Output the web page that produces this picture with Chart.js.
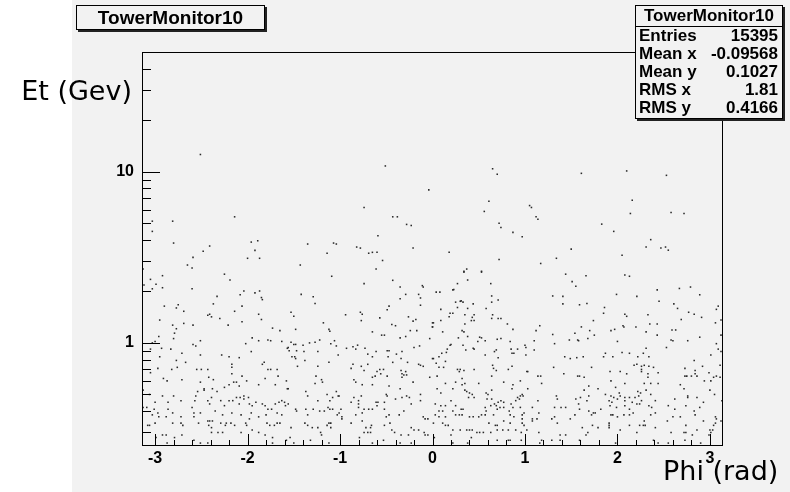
<!DOCTYPE html>
<html>
<head>
<meta charset="utf-8">
<script src="https://cdn.jsdelivr.net/npm/chart.js@4.4.1/dist/chart.umd.min.js"></script>
<style>
  html, body { margin: 0; padding: 0; background: #fff; }
  #wrap { position: relative; width: 790px; height: 492px; font-family: "Liberation Sans", Arial, sans-serif; color: #000; }
  #pad { position: absolute; left: 72px; top: 0; width: 718px; height: 492px; background: #f2f2f2; }
  #plot { position: absolute; left: 0; top: 0; }
  .box { position: absolute; box-sizing: border-box; border: 1px solid #000; background: #f2f2f2; box-shadow: 2px 2px 0 #222; }
  #title { left: 76px; top: 5px; width: 189px; height: 25px; font-weight: bold; font-size: 19px; line-height: 23px; text-align: center; }
  #stats { left: 635px; top: 5px; width: 148px; height: 114px; font-weight: bold; font-size: 17px; }
  #stats .head { height: 20px; line-height: 20px; text-align: center; border-bottom: 1px solid #000; }
  #stats .row { height: 18px; line-height: 18px; padding: 0 4px 0 3px; display: flex; justify-content: space-between; }
  .axtitle { position: absolute; font-family: "DejaVu Sans", sans-serif; font-size: 27px; line-height: 27px; white-space: pre; }
</style>
</head>
<body>
<div id="wrap">
  <div id="pad"></div>
  <canvas id="plot" width="790" height="492"></canvas>
  <div id="title" class="box">TowerMonitor10</div>
  <div id="stats" class="box">
    <div class="head">TowerMonitor10</div>
    <div class="row"><span>Entries</span><span>15395</span></div>
    <div class="row"><span>Mean x</span><span>-0.09568</span></div>
    <div class="row"><span>Mean y</span><span>0.1027</span></div>
    <div class="row"><span>RMS x</span><span>1.81</span></div>
    <div class="row"><span>RMS y</span><span>0.4166</span></div>
  </div>
  <div class="axtitle" style="right:658px; top:77px;">Et (Gev)</div>
  <div class="axtitle" style="left:663px; top:457px;">Phi (rad)</div>
</div>
<script>
// tick labels
var xTickValues = [-3, -2, -1, 0, 1, 2, 3];
var yTickValues = [1, 10];

// towers above ~2.6 GeV, [phi, Et]
var upperPoints = [
  [-2.51,12.6],[-0.51,10.8],[-0.04,7.83],[-0.74,6.18],[-2.14,5.45],[-0.43,5.45],[-0.38,5.45],[-3.03,5.14],
  [-2.81,5.14],[-3.03,4.48],[-0.28,4.92],[-0.23,4.85],[-0.59,4.23],[-2.80,3.83],[-2.41,3.68],[-1.96,3.88],
  [-1.89,3.95],[-1.92,3.47],[-2.48,3.43],[-2.59,3.16],[-2.00,3.12],[-1.87,3.12],[-1.35,3.78],[-1.07,3.83],
  [-1.04,3.78],[-1.14,3.34],[-0.82,3.63],[-0.78,3.58],[-0.69,3.34],[-0.65,3.38],[-0.60,3.38],[-0.54,3.03],
  [-0.21,3.58],[-2.65,2.85],[-2.60,2.74],[-1.43,2.85],[-0.61,2.70],[-3.13,2.70],
  [0.65,10.4],[0.70,9.66],[1.61,9.78],[2.10,10.1],[2.53,9.52],[0.61,6.72],[0.56,5.86],[1.05,6.34],
  [1.07,6.18],[1.12,5.45],[1.14,5.28],[2.16,6.81],[2.14,5.70],[2.58,5.78],[2.72,5.70],[0.72,5.0],
  [0.74,4.72],[0.87,4.42],[0.97,4.17],[1.83,4.94],[1.96,4.48],[2.36,4.01],[2.31,3.63],[2.47,3.58],
  [2.52,3.63],[2.55,3.48],[0.18,3.38],[0.72,3.07],[1.34,3.12],[1.50,3.53],[1.17,2.91],[2.05,3.25],
  [0.37,2.70],[0.34,2.62],[0.53,2.62]
];

// phi -pi .. -pi/2
var bandA = [
  [-2.92,2.47],[-3.05,2.35],[-3.12,2.18],[-2.99,2.2],[-2.92,2.1],[-3.03,2.07],[-2.25,2.52],[-2.19,2.33],
  [-2.60,2.07],[-2.04,2.01],[-2.08,1.91],[-1.92,1.96],[-1.87,2.01],[-1.85,1.84],[-1.84,1.79],[-2.33,1.87],
  [-2.37,1.69],[-2.90,1.64],[-2.75,1.67],[-2.77,1.60],[-2.69,1.53],[-2.43,1.45],[-2.41,1.47],[-2.39,1.42],
  [-2.14,1.53],[-2.06,1.64],[-1.88,1.47],[-1.85,1.37],[-2.30,1.39],[-2.06,1.33],[-2.21,1.27],[-2.95,1.36],
  [-2.81,1.27],[-2.69,1.30],[-2.59,1.27],[-2.77,1.21],[-1.65,1.18],[-1.73,1.22],[-2.79,1.14],[-2.80,1.06],
  [-3.14,1.06],[-2.96,1.09],[-3.00,1.02],[-3.03,1.00],[-1.95,1.07],[-1.88,1.03],[-1.78,1.04],[-1.75,1.03],
  [-1.63,1.02],[-1.57,0.93],[-2.51,1.03],[-2.59,0.98],[-2.56,0.96],[-2.02,0.99],[-3.05,0.92],[-2.93,0.93],
  [-2.83,0.92],[-1.96,0.89],[-2.71,0.87],[-2.51,0.85],[-2.28,0.85],[-2.20,0.83],[-2.09,0.82],[-2.95,0.83],
  [-2.77,0.79],[-2.67,0.77],[-1.82,0.77],[-1.84,0.75],[-2.17,0.75],[-2.17,0.72],[-1.78,0.70],[-1.75,0.70],
  [-1.68,0.70],[-2.76,0.72],[-2.82,0.70],[-2.97,0.71],[-2.50,0.70],[-2.55,0.70],[-2.43,0.70],[-3.05,0.67],
  [-2.91,0.62],[-2.87,0.60],[-2.71,0.61],[-2.42,0.63],[-2.37,0.61],[-2.17,0.66],[-2.06,0.64],[-2.01,0.60],
  [-2.15,0.59],[-2.12,0.59],[-1.67,0.64],[-1.81,0.62],[-1.58,0.60],[-3.13,0.53],[-2.51,0.59],[-2.47,0.54],
  [-2.54,0.52],[-2.47,0.53],[-2.38,0.54],[-2.33,0.52],[-2.25,0.55],[-2.20,0.57],[-2.09,0.56],[-1.88,0.57],
  [-1.70,0.57],[-1.57,0.54],[-3.06,0.50],[-3.00,0.45],[-2.92,0.49],[-2.86,0.45],[-2.80,0.49],[-2.72,0.46],
  [-2.56,0.49],[-2.57,0.46],[-2.43,0.46],[-2.39,0.48],[-2.41,0.44],[-2.29,0.46],[-2.25,0.43],[-2.20,0.46],
  [-2.16,0.46],[-2.12,0.48],[-2.08,0.48],[-2.04,0.49],[-2.04,0.47],[-1.99,0.48],[-2.09,0.44],[-1.98,0.44],
  [-1.95,0.43],[-1.91,0.45],[-1.84,0.44],[-1.81,0.43],[-1.78,0.41],[-1.74,0.41],[-1.70,0.44],[-1.66,0.45],
  [-1.63,0.46],[-1.60,0.45],[-1.59,0.43],[-3.13,0.42],[-3.09,0.42],[-3.01,0.41],[-2.97,0.39],[-3.03,0.38],
  [-2.96,0.37],[-2.88,0.37],[-2.86,0.41],[-2.81,0.39],[-2.72,0.37],[-2.60,0.42],[-2.58,0.39],[-2.51,0.39],
  [-2.58,0.37],[-2.35,0.40],[-2.27,0.38],[-2.17,0.39],[-2.07,0.38],[-1.96,0.39],[-1.88,0.37],[-1.80,0.38],
  [-1.68,0.39],[-1.63,0.38],[-3.08,0.33],[-3.06,0.33],[-3.00,0.34],[-2.81,0.34],[-2.72,0.34],[-2.70,0.33],
  [-2.53,0.34],[-2.43,0.35],[-2.41,0.35],[-2.38,0.35],[-2.42,0.33],[-2.39,0.32],[-2.29,0.34],[-2.23,0.34],
  [-2.18,0.34],[-2.14,0.33],[-2.24,0.33],[-2.02,0.34],[-2.01,0.33],[-1.98,0.36],[-1.95,0.31],[-1.79,0.34],
  [-1.76,0.33],[-1.71,0.33],[-1.68,0.34],[-1.65,0.34],[-2.92,0.29],[-2.88,0.29],[-2.79,0.28],[-2.71,0.29],
  [-2.39,0.30],[-2.32,0.30],[-2.27,0.30],[-2.07,0.30],[-1.88,0.30],[-1.81,0.29],[-1.73,0.28],[-2.99,0.28],
  [-2.87,0.26],[-2.58,0.27],[-2.51,0.26],[-2.43,0.26],[-1.73,0.26],[-1.58,0.27]
];

// phi -pi/2 .. 0
var bandB = [
  [-1.09,2.45],[-0.74,2.22],[-0.43,2.32],[-0.35,2.12],[-0.11,2.16],[-0.10,2.12],[-1.42,1.92],[-1.29,1.86],
  [-0.29,1.92],[-0.15,1.92],[-0.35,1.81],[-1.27,1.70],[-0.13,1.83],[-0.13,1.66],[-0.47,1.64],[-0.49,1.56],
  [-1.53,1.51],[-1.50,1.43],[-0.94,1.46],[-0.78,1.51],[-0.76,1.47],[-0.77,1.35],[-0.57,1.40],[-0.26,1.42],
  [-0.18,1.37],[-0.21,1.34],[-0.00,1.31],[-1.18,1.31],[-0.44,1.28],[-0.40,1.26],[0.00,1.24],[-1.48,1.20],
  [-1.12,1.20],[-1.11,1.17],[-0.24,1.18],[-0.17,1.18],[-0.65,1.16],[-0.55,1.11],[-0.52,1.11],[-0.35,1.07],
  [-0.29,1.09],[-0.03,1.06],[-1.22,1.04],[-1.53,1.01],[-1.50,0.98],[-1.48,0.98],[-1.40,0.97],[-1.33,1.00],
  [-1.27,1.01],[-1.10,0.99],[-1.06,1.03],[-1.04,0.96],[-0.93,0.93],[-0.86,0.95],[-0.83,0.92],[-0.81,0.97],
  [-0.73,0.93],[-1.56,0.94],[-1.55,0.90],[-1.47,0.90],[-1.39,0.89],[-1.24,0.89],[-0.70,0.86],[-0.65,0.83],
  [-0.61,0.89],[-0.49,0.90],[-0.47,0.90],[-0.39,0.86],[-0.33,0.89],[-0.20,0.94],[-0.14,0.96],[-1.52,0.83],
  [-1.49,0.83],[-1.48,0.81],[-1.38,0.79],[-1.02,0.85],[-0.48,0.83],[-0.34,0.81],[0.00,0.81],[-1.12,0.77],
  [-0.86,0.75],[-0.70,0.75],[-0.43,0.77],[-0.27,0.77],[-0.15,0.75],[-0.13,0.74],[-0.10,0.73],[-1.46,0.73],
  [-1.24,0.73],[-0.88,0.71],[-0.77,0.73],[-0.74,0.69],[-0.60,0.68],[-0.56,0.66],[-0.53,0.70],[-0.57,0.70],
  [-0.49,0.64],[-0.34,0.69],[-0.33,0.66],[-0.31,0.65],[-0.28,0.65],[-0.29,0.68],[-0.33,0.63],[-0.62,0.64],
  [-0.65,0.63],[-1.26,0.64],[-0.85,0.61],[-0.83,0.59],[-1.20,0.61],[-1.19,0.59],[-0.21,0.59],[-0.03,0.63],
  [-0.65,0.57],[-0.76,0.57],[-1.27,0.58],[-1.56,0.54],[-0.47,0.56],[-0.35,0.54],[-1.37,0.52],[-1.35,0.49],
  [-1.04,0.52],[-1.02,0.49],[-1.01,0.49],[-1.14,0.50],[-1.08,0.48],[-0.77,0.49],[-0.85,0.48],[-0.50,0.50],
  [-0.49,0.49],[-0.40,0.47],[-0.33,0.48],[-0.28,0.49],[-0.25,0.48],[-0.13,0.50],[-1.24,0.46],[-1.11,0.46],
  [-0.88,0.45],[-0.80,0.46],[-0.80,0.44],[-0.61,0.45],[-0.59,0.45],[-0.52,0.45],[-0.13,0.46],[-1.56,0.44],
  [-0.23,0.44],[-1.48,0.41],[-1.47,0.40],[-1.37,0.41],[-1.29,0.41],[-1.22,0.40],[-1.17,0.40],[-1.13,0.42],
  [-1.11,0.41],[-1.08,0.41],[-0.99,0.41],[-0.80,0.42],[-0.74,0.41],[-0.69,0.41],[-0.65,0.41],[-0.60,0.43],
  [-0.52,0.41],[-0.31,0.40],[-1.35,0.38],[-1.03,0.38],[-1.01,0.39],[-0.98,0.37],[-0.98,0.36],[-0.83,0.38],
  [-0.76,0.39],[-0.50,0.37],[-0.47,0.38],[-0.36,0.38],[-0.10,0.37],[-0.08,0.36],[-0.05,0.36],[-1.38,0.34],
  [-1.12,0.34],[-1.10,0.34],[-0.88,0.34],[-0.76,0.35],[-0.66,0.33],[-0.52,0.33],[-0.46,0.34],[-1.53,0.32],
  [-1.35,0.33],[-1.30,0.32],[-1.24,0.32],[-1.14,0.33],[-1.10,0.32],[-0.72,0.32],[-0.67,0.32],[-0.70,0.30],
  [-0.74,0.30],[-0.67,0.30],[-0.44,0.31],[-0.41,0.30],[-0.23,0.32],[-0.20,0.31],[-0.15,0.31],[-0.09,0.30],
  [-0.05,0.29],[-1.21,0.30],[-1.20,0.29],[-1.54,0.28],[-1.32,0.27],[-0.79,0.28],[-0.34,0.29],[-0.26,0.29],
  [-0.08,0.29],[-1.50,0.26],[-1.12,0.26],[-0.65,0.26],[-0.53,0.27],[-0.35,0.26],[-0.23,0.26]
];

// phi 0 .. pi/2
var bandC = [
  [0.34,2.59],[0.53,2.59],[1.44,2.52],[1.51,2.28],[1.55,2.14],[0.38,2.33],[0.27,2.22],[0.63,2.22],
  [0.22,2.04],[0.23,2.05],[0.04,1.98],[0.08,1.98],[0.64,1.88],[1.41,1.87],[1.30,1.88],[0.71,1.78],
  [0.64,1.73],[0.25,1.73],[0.30,1.75],[0.31,1.76],[0.33,1.73],[0.44,1.69],[1.41,1.69],[0.38,1.59],
  [0.27,1.61],[0.58,1.59],[0.09,1.57],[0.19,1.49],[0.22,1.49],[0.18,1.42],[0.35,1.46],[0.45,1.46],
  [0.65,1.46],[0.43,1.41],[0.42,1.35],[0.45,1.35],[0.64,1.39],[0.71,1.39],[0.74,1.39],[0.01,1.31],
  [0.09,1.35],[0.35,1.29],[0.81,1.29],[1.16,1.26],[1.12,1.18],[0.87,1.20],[0.00,1.24],[0.11,1.16],
  [0.32,1.18],[0.34,1.16],[1.30,1.12],[1.54,1.14],[0.38,1.09],[0.28,1.07],[0.51,1.08],[0.53,1.07],
  [0.49,1.02],[0.57,1.03],[0.70,1.05],[0.74,1.06],[0.84,1.02],[1.10,1.03],[1.32,0.99],[1.48,1.04],
  [1.57,1.04],[0.20,0.98],[0.19,0.97],[0.33,0.97],[0.44,0.93],[0.45,0.92],[1.00,0.97],[1.01,0.94],
  [0.16,0.92],[0.15,0.88],[0.36,0.91],[0.69,0.91],[0.67,0.89],[0.85,0.92],[0.92,0.92],[0.86,0.87],
  [0.88,0.87],[1.10,0.91],[0.10,0.87],[0.57,0.85],[1.01,0.85],[0.07,0.83],[0.01,0.81],[0.71,0.82],
  [1.43,0.83],[1.49,0.81],[1.56,0.82],[0.14,0.78],[0.04,0.76],[0.65,0.74],[0.66,0.71],[0.86,0.73],
  [0.82,0.70],[0.07,0.72],[0.12,0.72],[0.27,0.70],[0.30,0.70],[0.34,0.69],[0.29,0.68],[0.45,0.70],
  [0.69,0.69],[1.31,0.72],[1.02,0.68],[1.03,0.68],[1.42,0.66],[1.57,0.64],[0.05,0.64],[0.32,0.62],
  [0.64,0.64],[1.14,0.64],[1.17,0.64],[0.14,0.58],[0.25,0.59],[0.35,0.58],[0.32,0.57],[0.50,0.58],
  [0.95,0.60],[0.77,0.59],[0.87,0.57],[1.18,0.58],[0.05,0.54],[0.22,0.54],[0.35,0.53],[0.37,0.52],
  [0.64,0.53],[0.86,0.54],[1.03,0.54],[0.40,0.51],[0.43,0.50],[0.58,0.51],[0.60,0.50],[0.97,0.50],
  [0.95,0.49],[0.98,0.49],[0.92,0.48],[1.34,0.49],[0.09,0.51],[0.39,0.48],[0.45,0.48],[0.59,0.47],
  [0.64,0.47],[0.74,0.46],[0.77,0.45],[0.71,0.45],[0.90,0.46],[0.94,0.47],[1.14,0.46],[1.35,0.47],
  [1.55,0.47],[0.20,0.46],[0.03,0.44],[0.09,0.43],[0.14,0.43],[0.25,0.43],[0.63,0.43],[0.67,0.44],
  [0.69,0.43],[0.73,0.42],[0.77,0.42],[0.85,0.44],[0.87,0.42],[0.57,0.42],[0.95,0.42],[1.08,0.42],
  [1.32,0.42],[1.39,0.42],[1.44,0.42],[0.07,0.40],[0.11,0.40],[0.22,0.40],[0.31,0.41],[0.33,0.41],
  [0.58,0.40],[0.70,0.41],[0.83,0.40],[0.99,0.39],[1.15,0.39],[0.03,0.38],[0.07,0.37],[0.14,0.37],
  [0.25,0.38],[0.29,0.38],[0.32,0.38],[0.40,0.37],[0.44,0.37],[0.50,0.37],[0.53,0.38],[0.57,0.38],
  [0.66,0.38],[0.84,0.38],[0.88,0.37],[0.97,0.38],[0.97,0.36],[1.08,0.36],[1.13,0.36],[1.29,0.36],
  [1.32,0.37],[1.49,0.36],[1.54,0.38],[0.01,0.34],[0.11,0.34],[0.14,0.33],[0.17,0.33],[0.61,0.34],
  [0.68,0.33],[0.70,0.33],[0.77,0.35],[0.84,0.34],[0.97,0.34],[0.99,0.33],[1.08,0.35],[1.35,0.34],
  [0.22,0.31],[0.30,0.31],[0.37,0.31],[0.40,0.31],[0.43,0.31],[0.48,0.30],[0.51,0.30],[0.55,0.30],
  [0.63,0.30],[0.70,0.31],[0.76,0.31],[0.82,0.31],[0.90,0.31],[0.96,0.30],[1.02,0.31],[1.15,0.30],
  [1.38,0.29],[1.44,0.29],[0.20,0.29],[0.02,0.28],[0.42,0.28],[0.70,0.27],[0.82,0.27],[0.84,0.27],
  [0.96,0.27],[1.18,0.27],[1.29,0.27],[1.38,0.27],[0.38,0.26],[0.22,0.26],[1.16,0.26]
];

// phi pi/2 .. pi
var bandD = [
  [1.66,2.47],[2.08,2.49],[2.13,2.45],[2.67,2.08],[2.79,2.12],[2.43,2.04],[2.89,1.91],[1.99,1.92],
  [2.21,1.87],[2.45,1.75],[1.67,1.70],[1.59,1.67],[1.86,1.61],[2.61,1.69],[2.65,1.59],[3.09,1.64],
  [3.07,1.57],[1.85,1.49],[2.08,1.47],[2.10,1.43],[2.33,1.46],[2.77,1.51],[2.83,1.47],[2.91,1.41],
  [2.69,1.37],[3.12,1.36],[1.74,1.35],[2.35,1.29],[2.43,1.29],[3.06,1.31],[1.61,1.24],[2.06,1.26],
  [2.07,1.24],[2.20,1.24],[1.97,1.20],[1.93,1.18],[1.70,1.18],[2.31,1.16],[2.59,1.19],[2.63,1.19],
  [1.75,1.11],[2.43,1.11],[3.12,1.11],[1.58,1.03],[1.68,1.06],[2.00,1.02],[2.58,1.04],[2.60,1.03],
  [2.76,1.03],[2.89,1.08],[3.07,0.99],[2.31,0.93],[2.53,0.94],[3.09,0.92],[3.12,0.89],[2.05,0.88],
  [1.87,0.87],[2.13,0.87],[2.28,0.87],[1.63,0.83],[1.85,0.83],[1.95,0.83],[2.22,0.83],[2.34,0.83],
  [3.01,0.85],[2.83,0.79],[2.18,0.74],[2.21,0.75],[2.26,0.73],[2.29,0.74],[2.34,0.73],[2.39,0.72],
  [2.26,0.70],[2.26,0.68],[1.72,0.72],[2.73,0.71],[2.84,0.69],[2.92,0.73],[3.11,0.74],[1.92,0.68],
  [2.03,0.68],[2.10,0.66],[2.33,0.66],[2.44,0.67],[2.84,0.66],[2.99,0.67],[1.59,0.64],[1.64,0.63],
  [2.33,0.63],[2.73,0.64],[2.75,0.64],[2.80,0.64],[2.86,0.64],[3.04,0.63],[3.07,0.64],[3.11,0.63],
  [1.93,0.60],[2.94,0.60],[2.08,0.58],[2.29,0.58],[2.36,0.58],[2.44,0.58],[2.68,0.57],[3.01,0.60],
  [1.69,0.56],[1.79,0.54],[1.64,0.53],[1.98,0.55],[2.72,0.54],[3.00,0.53],[1.87,0.50],[2.02,0.51],
  [2.03,0.49],[2.22,0.52],[2.31,0.53],[2.25,0.51],[2.36,0.50],[2.23,0.49],[3.05,0.50],[1.69,0.49],
  [1.60,0.48],[1.93,0.49],[1.96,0.48],[2.08,0.48],[2.13,0.48],[2.19,0.48],[2.76,0.49],[2.76,0.48],
  [2.86,0.48],[1.67,0.46],[1.91,0.46],[1.94,0.45],[2.00,0.47],[2.08,0.46],[2.16,0.45],[2.21,0.44],
  [2.26,0.46],[2.41,0.46],[2.62,0.47],[2.93,0.45],[3.13,0.46],[1.58,0.44],[2.24,0.44],[2.34,0.43],
  [2.37,0.42],[2.55,0.43],[1.92,0.43],[1.99,0.42],[2.08,0.43],[2.13,0.41],[1.82,0.41],[1.59,0.41],
  [1.69,0.40],[1.76,0.39],[1.72,0.38],[1.74,0.39],[1.93,0.38],[1.95,0.38],[2.00,0.37],[2.07,0.38],
  [2.13,0.38],[2.17,0.39],[2.36,0.38],[2.41,0.39],[2.62,0.41],[2.68,0.37],[2.60,0.37],[2.83,0.40],
  [2.89,0.42],[2.74,0.43],[2.84,0.38],[2.93,0.35],[3.06,0.37],[3.07,0.36],[3.12,0.35],[2.54,0.35],
  [2.29,0.35],[2.30,0.33],[1.73,0.33],[1.91,0.34],[1.91,0.33],[2.13,0.33],[2.24,0.33],[2.28,0.33],
  [2.74,0.33],[3.04,0.33],[3.06,0.34],[1.62,0.32],[1.79,0.32],[1.91,0.32],[2.03,0.31],[2.41,0.32],
  [2.86,0.31],[3.00,0.31],[3.03,0.31],[1.68,0.30],[2.21,0.30],[2.58,0.30],[2.72,0.30],[2.74,0.30],
  [3.01,0.30],[2.99,0.29],[1.66,0.29],[2.81,0.29],[1.59,0.27],[2.73,0.27],[1.98,0.26],[2.39,0.27],
  [2.55,0.26],[2.90,0.26],[2.44,0.26]
];

var allPoints = upperPoints.concat(bandA, bandB, bandC, bandD).map(function (p) {
  return { x: p[0], y: p[1] };
});

// frame + ROOT style ticks pointing into the pad
var frameTicks = {
  id: 'frameTicks',
  afterDatasetsDraw: function (chart) {
    var ctx = chart.ctx, a = chart.chartArea, x = chart.scales.x, y = chart.scales.y;
    ctx.save();
    ctx.strokeStyle = '#000';
    ctx.lineWidth = 1;
    ctx.strokeRect(a.left + 0.5, a.top + 0.5, a.right - a.left - 1, a.bottom - a.top - 1);
    ctx.beginPath();
    for (var i = -15; i <= 15; i++) {
      var px = Math.round(x.getPixelForValue(i / 5)) + 0.5;
      var len = (i % 5 === 0) ? 12 : 6;
      ctx.moveTo(px, a.bottom);
      ctx.lineTo(px, a.bottom - len);
    }
    [0.1, 1, 10].forEach(function (d) {
      for (var k = 1; k <= 9; k++) {
        var v = k * d;
        if (v < y.min || v > y.max) continue;
        var py = Math.round(y.getPixelForValue(v)) + 0.5;
        ctx.moveTo(a.left, py);
        ctx.lineTo(a.left + (k === 1 ? 18 : 9), py);
      }
    });
    ctx.stroke();
    ctx.restore();
  }
};

var ctx = document.getElementById('plot');
new Chart(ctx, {
  type: 'scatter',
  data: {
    datasets: [{
      data: allPoints,
      pointStyle: 'rect',
      pointRadius: 1.1,
      pointBorderWidth: 0,
      backgroundColor: '#2a2a2a',
      borderColor: '#2a2a2a'
    }]
  },
  options: {
    responsive: false,
    animation: false,
    devicePixelRatio: 1,
    layout: { padding: { left: 0, top: 52, right: 67, bottom: 0 } },
    scales: {
      x: {
        type: 'linear',
        min: -Math.PI,
        max: Math.PI,
        afterBuildTicks: function (s) { s.ticks = xTickValues.map(function (v) { return { value: v }; }); },
        afterFit: function (s) { s.height = 46; },
        grid: { display: false, drawTicks: false },
        border: { display: false },
        ticks: {
          color: '#000',
          font: { family: 'Liberation Sans', weight: 'bold', size: 16 },
          padding: 3,
          maxRotation: 0,
          autoSkip: false
        }
      },
      y: {
        type: 'logarithmic',
        min: 0.25,
        max: 50,
        afterBuildTicks: function (s) { s.ticks = yTickValues.map(function (v) { return { value: v }; }); },
        afterFit: function (s) { s.width = 142; },
        grid: { display: false, drawTicks: false },
        border: { display: false },
        ticks: {
          color: '#000',
          font: { family: 'Liberation Sans', weight: 'bold', size: 16 },
          padding: 8,
          callback: function (v) { return String(v); }
        }
      }
    },
    plugins: {
      legend: { display: false },
      tooltip: { enabled: false }
    }
  },
  plugins: [frameTicks]
});
</script>
</body>
</html>
